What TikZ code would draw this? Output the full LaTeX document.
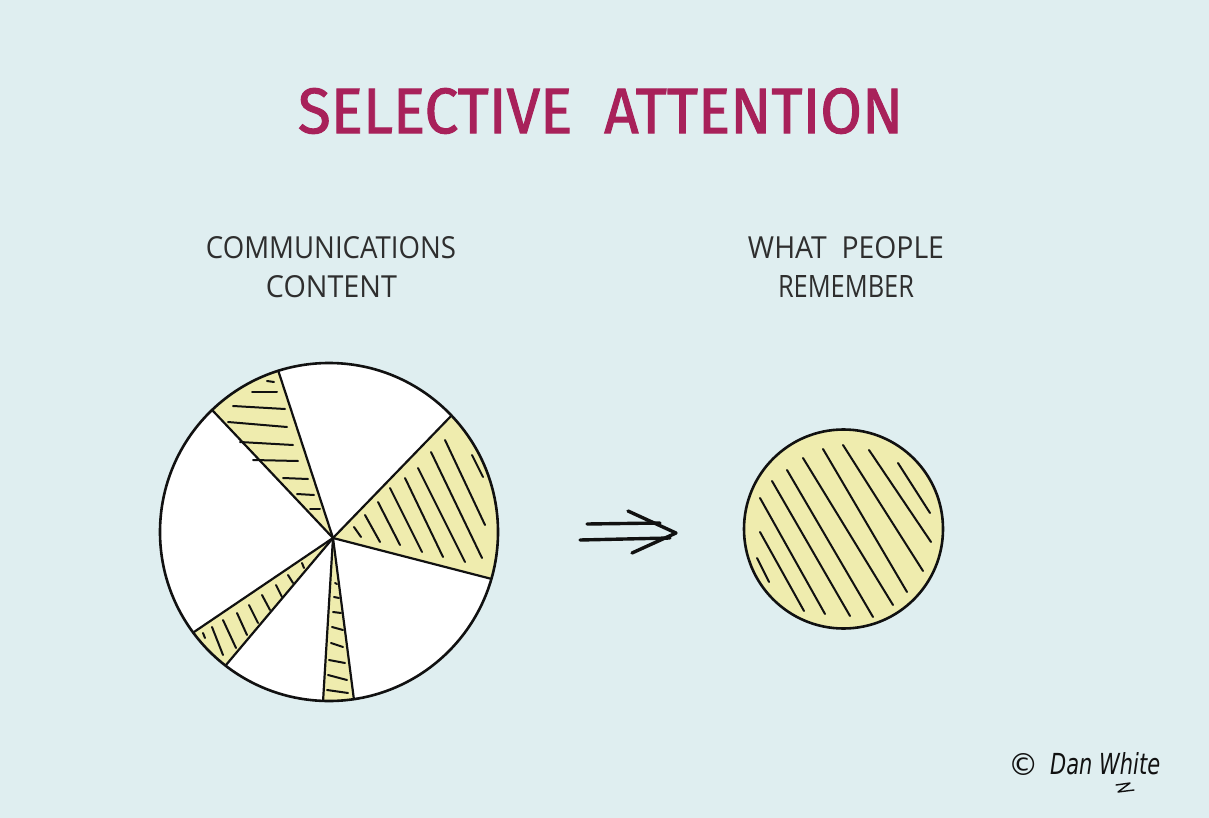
\documentclass[tikz,border=0pt]{standalone}
\usepackage{fontspec}
\setmainfont{Open Sans}
\newfontfamily\titlefont[FakeBold=1.6]{Fira Sans}
\newfontfamily\sigfont{DejaVu Sans}
\usetikzlibrary{calc}
\definecolor{bg}{HTML}{DFEEF0}
\definecolor{ylw}{HTML}{EFECAE}
\definecolor{ttl}{HTML}{A8215A}
\definecolor{ink}{HTML}{2E2E2E}
\definecolor{pen}{HTML}{111111}
\tikzset{
  outline/.style={draw=pen, line width=2.6pt},
  edge/.style={draw=pen, line width=2.2pt, line cap=round},
  hatch/.style={draw=pen, line width=2pt, line cap=round},
  arrowpen/.style={draw=pen, line width=3.4pt, line cap=round, line join=round},
  lbl/.style={inner sep=0pt, text=ink},
}
\begin{document}
\begin{tikzpicture}[x=1pt, y=-1pt]
\useasboundingbox (0,0) rectangle (1209,818);
\fill[bg] (0,0) rectangle (1209,818);

% title
\node[inner sep=0pt, text=ttl] (title) at (600.5,111)
  {\resizebox{605pt}{45pt}{\titlefont SELECTIVE\ \ ATTENTION}};

% labels
\node[lbl] (l1a) at (331,247.5) {\resizebox{250pt}{22pt}{COMMUNICATIONS}};
\node[lbl] (l1b) at (331.5,286.5) {\resizebox{131pt}{22pt}{CONTENT}};
\node[lbl] (l2a) at (846,247.5) {\resizebox{196pt}{22pt}{WHAT\ \ PEOPLE}};
\node[lbl] (l2b) at (846,286.5) {\resizebox{136pt}{22pt}{REMEMBER}};

% pie chart
\coordinate (C) at (329,532);
\coordinate (A) at (333,538);
\coordinate (P1) at (214,412);
\coordinate (P2) at (278,370);
\coordinate (P3) at (452,415);
\coordinate (P4) at (488,578);
\coordinate (P5) at (354,700);
\coordinate (P6) at (323,702);
\coordinate (P7) at (226,665);
\coordinate (P8) at (194,632);

\fill[white] (C) circle[radius=169];
\begin{scope}
  \clip (C) circle[radius=169];
  \fill[ylw] (A) -- ($(A)!2!(P1)$) -- ($(A)!2!(P2)$) -- cycle;
  \fill[ylw] (A) -- ($(A)!2!(P3)$) -- ($(A)!2!(P4)$) -- cycle;
  \fill[ylw] (A) -- ($(A)!2!(P5)$) -- ($(A)!2!(P6)$) -- cycle;
  \fill[ylw] (A) -- ($(A)!2!(P7)$) -- ($(A)!2!(P8)$) -- cycle;
  % hatching upper-left wedge
  \foreach \a/\b/\c/\d in {267/381/274/382, 252/392/277/392, 233/406/285/409,
      228/422/287/427, 240/442/293/445, 253/460/298/461, 283/478/308/479,
      297/494/314/495, 310/509/320/509}
    \draw[hatch] (\a,\b) -- (\c,\d);
  % hatching right wedge
  \foreach \a/\b/\c/\d in {354/527/361/537, 365/515/380/542, 378/502/400/545,
      390/488/422/552, 405/478/443/557, 418/468/465/562, 431/452/482/558,
      445/440/485/525, 472/455/483/477}
    \draw[hatch] (\a,\b) -- (\c,\d);
  % hatching bottom wedge
  \foreach \a/\b/\c/\d in {335/583/337/584, 334/597/339/598, 333/612/341/613,
      332/627/343/630, 331/643/343/647, 329/660/345/663, 328/675/347/680,
      327/690/348/693}
    \draw[hatch] (\a,\b) -- (\c,\d);
  % hatching lower-left wedge
  \foreach \a/\b/\c/\d in {302/563/304/568, 288/575/293/583, 276/585/282/597,
      262/595/270/610, 249/605/258/623, 237/613/247/635, 223/620/236/648,
      212/627/223/655, 203/633/205/638}
    \draw[hatch] (\a,\b) -- (\c,\d);
  % wedge boundaries
  \foreach \p in {P1,P2,P3,P4,P5,P6,P7,P8}
    \draw[edge] (A) -- ($(A)!1.08!(\p)$);
\end{scope}
\draw[outline] (C) circle[radius=169];

% arrow
\coordinate (t1) at (587,524);
\coordinate (t2) at (660,523);
\coordinate (b1) at (580,540);
\coordinate (b2) at (670,538);
\coordinate (h1) at (628,511);
\coordinate (h2) at (676,533);
\coordinate (h3) at (632,553);
\draw[arrowpen] (t1) -- (t2);
\draw[arrowpen] (b1) -- (b2);
\draw[arrowpen] (h1) -- (h2) -- (h3);

% remembered circle
\coordinate (R) at (843.5,529);
\fill[ylw] (R) circle[radius=99.5];
\begin{scope}
  \clip (R) circle[radius=99.5];
  \foreach \a/\b/\c/\d in {757/558/769/582, 760/532/804/611, 760/498/825/614,
      772/481/850/616, 787/470/873/617, 803/458/893/605, 823/449/907/592,
      843/445/923/571, 869/450/931/542, 898/463/930/513}
    \draw[hatch] (\a,\b) -- (\c,\d);
\end{scope}
\draw[outline] (R) circle[radius=99.5];

% signature
\node[inner sep=0pt, text=pen] (copy) at (1024,764) {\resizebox{!}{22pt}{\sigfont\textcopyright}};
\node[inner sep=0pt, text=pen, anchor=west] (sig) at (1050,764)
  {\resizebox{110pt}{22pt}{\sigfont\itshape Dan White}};
\coordinate (z1) at (1116,785);
\coordinate (z2) at (1130,783);
\coordinate (z3) at (1118,792);
\coordinate (z4) at (1134,790);
\draw[draw=pen, line width=1.4pt, line cap=round, line join=round] (z1) -- (z2) -- (z3) -- (z4);
\end{tikzpicture}
\end{document}
